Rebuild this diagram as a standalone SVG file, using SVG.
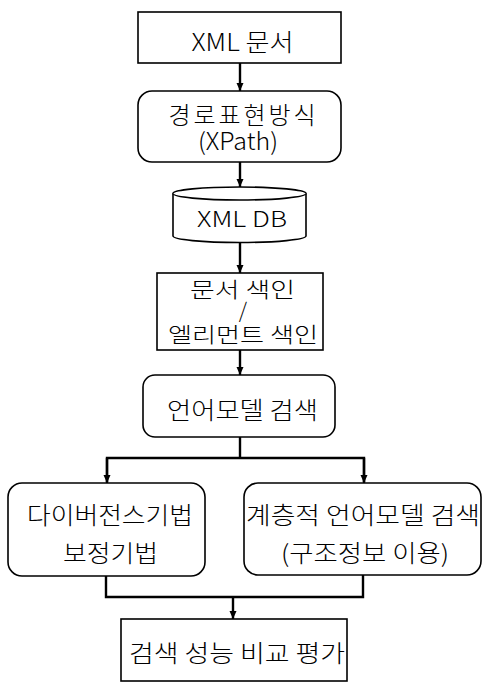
<svg xmlns="http://www.w3.org/2000/svg" width="482" height="682" viewBox="0 0 482 682">
<style>
.box{fill:#fff;stroke:#000;stroke-width:1.6}
.t{font-family:"Noto Sans CJK KR","Noto Sans",sans-serif;font-weight:300;fill:#000;text-anchor:middle}
.c{fill:none;stroke:#000;stroke-width:2.4}
</style>
<defs>
<marker id="ah" markerUnits="userSpaceOnUse" markerWidth="9" markerHeight="9" refX="8" refY="3.5" orient="auto">
<path d="M0,0 L8,3.5 L0,7 z" fill="#000"/>
</marker>
</defs>
<rect width="482" height="682" fill="#fff"/>
<g id="connectors">
<line class="c" x1="240" y1="63" x2="240" y2="91" marker-end="url(#ah)"/>
<line class="c" x1="240" y1="162" x2="240" y2="187" marker-end="url(#ah)"/>
<line class="c" x1="240" y1="242" x2="240" y2="273" marker-end="url(#ah)"/>
<line class="c" x1="240" y1="350" x2="240" y2="375" marker-end="url(#ah)"/>
<polyline class="c" points="240,437 240,458"/>
<polyline class="c" points="107,482 107,458 364,458 364,482"/>
<line class="c" x1="107" y1="458" x2="107" y2="483" marker-end="url(#ah)"/>
<line class="c" x1="364" y1="458" x2="364" y2="483" marker-end="url(#ah)"/>
<polyline class="c" points="106,576 106,597 363,597 363,575"/>
<line class="c" x1="233" y1="597" x2="233" y2="619" marker-end="url(#ah)"/>
</g>
<g id="n1">
<rect class="box" x="138" y="12" width="203" height="51"/>
<text class="t" x="242.5" y="50.5" font-size="24" textLength="102" lengthAdjust="spacingAndGlyphs">XML 문서</text>
</g>
<g id="n2">
<rect class="box" x="138" y="91" width="203" height="71" rx="14"/>
<text class="t" font-size="24"><tspan x="242" y="124" textLength="147" lengthAdjust="spacing">경로표현방식</tspan><tspan x="238" y="150" textLength="80" lengthAdjust="spacingAndGlyphs">(XPath)</tspan></text>
</g>
<g id="n3">
<path class="box" d="M173,193.5 A66.5,6.5 0 0 1 306,193.5 L306,236 A66.5,6.5 0 0 1 173,236 Z"/>
<path class="box" d="M173,193.5 A66.5,6.5 0 0 0 306,193.5" fill="none"/>
<text class="t" x="242" y="227" font-size="22" textLength="90" lengthAdjust="spacingAndGlyphs">XML DB</text>
</g>
<g id="n4">
<rect class="box" x="157" y="273" width="166" height="77"/>
<text class="t" font-size="21"><tspan x="242.5" y="297" textLength="105" lengthAdjust="spacingAndGlyphs">문서 색인</tspan><tspan x="243" y="318">/</tspan><tspan x="243" y="342" textLength="150" lengthAdjust="spacingAndGlyphs">엘리먼트 색인</tspan></text>
</g>
<g id="n5">
<rect class="box" x="143" y="375" width="192" height="62" rx="12"/>
<text class="t" x="242.5" y="418.5" font-size="24" textLength="151" lengthAdjust="spacingAndGlyphs">언어모델 검색</text>
</g>
<g id="n6">
<rect class="box" x="8" y="483" width="197" height="93" rx="14"/>
<text class="t" font-size="24"><tspan x="110" y="523.5" textLength="166" lengthAdjust="spacingAndGlyphs">다이버전스기법</tspan><tspan x="110.5" y="561.5" textLength="95" lengthAdjust="spacingAndGlyphs">보정기법</tspan></text>
</g>
<g id="n7">
<rect class="box" x="244" y="483" width="237" height="92" rx="14"/>
<text class="t" font-size="24"><tspan x="363" y="523.5" textLength="234" lengthAdjust="spacingAndGlyphs">계층적 언어모델 검색</tspan><tspan x="365" y="561.5" textLength="168" lengthAdjust="spacingAndGlyphs">(구조정보 이용)</tspan></text>
</g>
<g id="n8">
<rect class="box" x="121" y="619" width="226" height="62"/>
<text class="t" x="237" y="661.5" font-size="24" textLength="216" lengthAdjust="spacingAndGlyphs">검색 성능 비교 평가</text>
</g>
</svg>
